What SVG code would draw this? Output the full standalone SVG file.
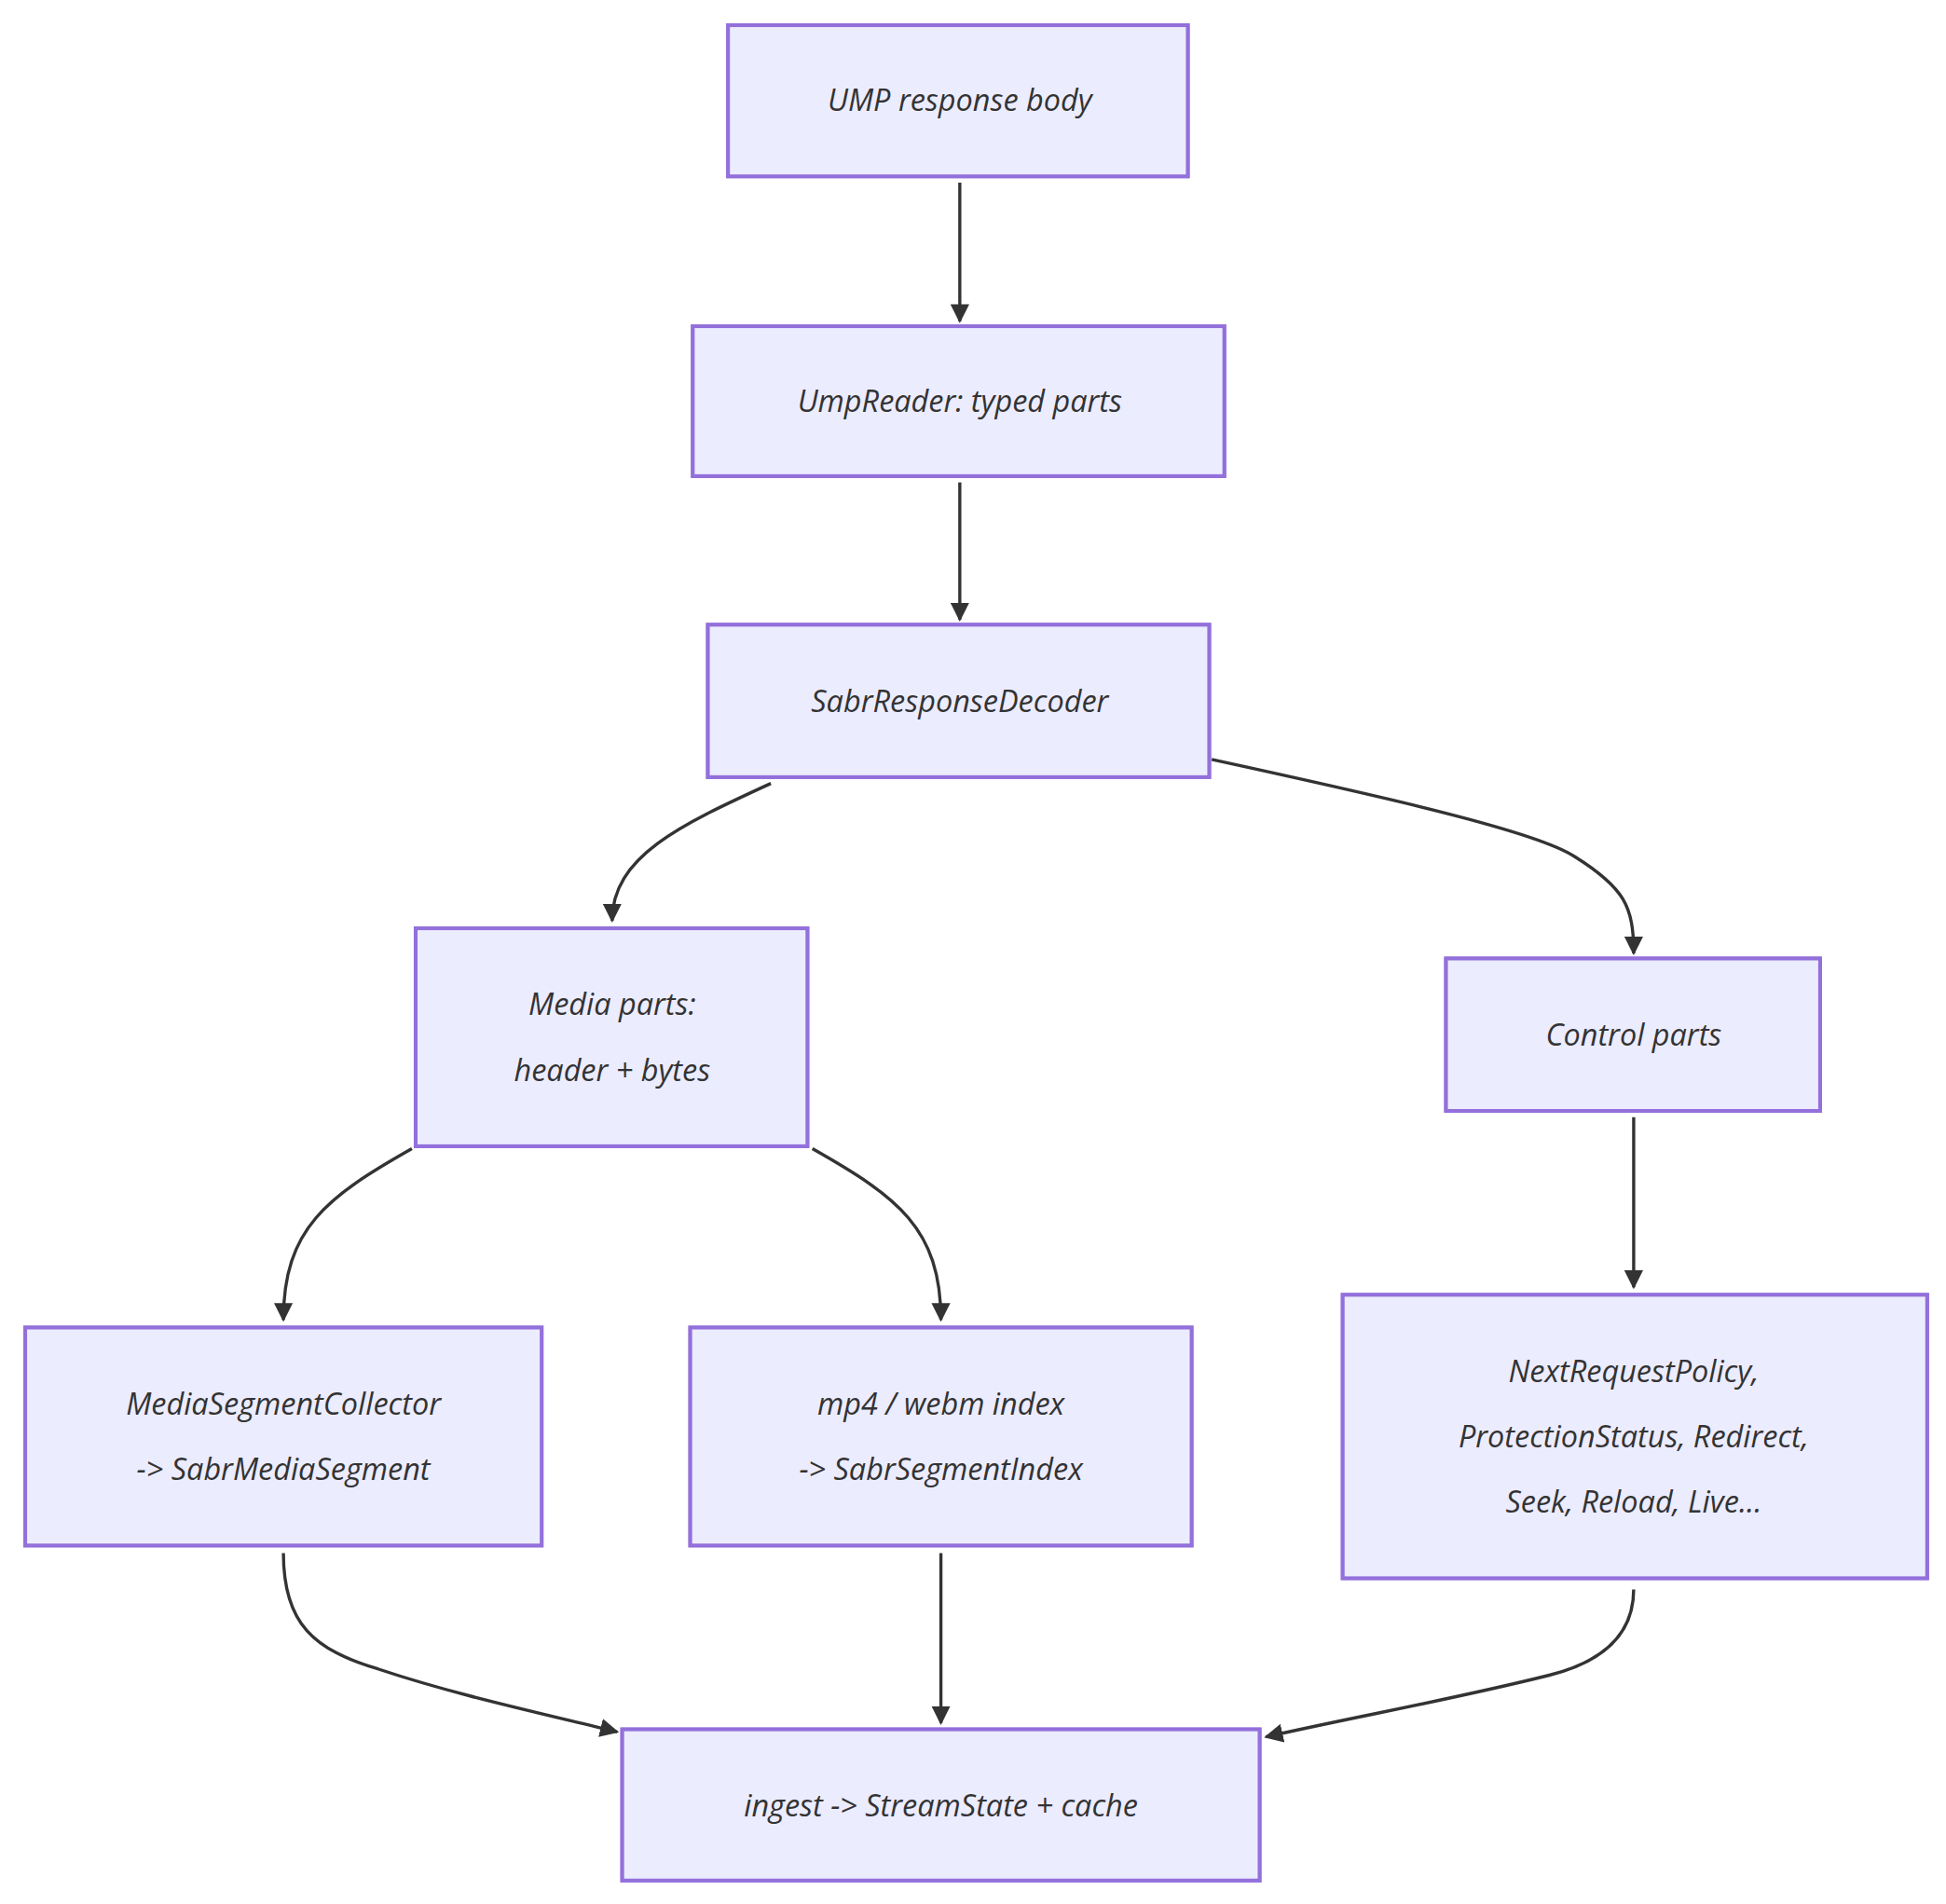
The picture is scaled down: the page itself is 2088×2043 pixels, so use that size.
<svg xmlns="http://www.w3.org/2000/svg" width="2088" height="2043" viewBox="0 0 2088 2043">
<style>
.n rect{fill:#ECECFF;stroke:#9370DB;stroke-width:3}
.n text{font-family:"Open Sans","DejaVu Sans",sans-serif;font-style:italic;font-size:24px;fill:#333;text-anchor:middle}
.e path{fill:none;stroke:#333;stroke-width:2.5}
</style>
<defs>
<marker id="a" viewBox="0 0 10 10" refX="9" refY="5" markerWidth="6" markerHeight="6" orient="auto-start-reverse" markerUnits="strokeWidth"><path d="M0,0L10,5L0,10z" fill="#333"/></marker>
<pattern id="h" width="14" height="14" patternUnits="userSpaceOnUse" patternTransform="rotate(30)"><line x1="0" y1="0" x2="0" y2="14" stroke="#fff" stroke-width="1.2"/></pattern>
</defs>
<rect width="2088" height="2043" fill="#fff"/>
<g transform="scale(1.3515)">
<g class="e">
<path d="M762,145L762,255" marker-end="url(#a)"/>
<path d="M762,383L762,492" marker-end="url(#a)"/>
<path d="M612,622C540,655 486,680 486,731" marker-end="url(#a)"/>
<path d="M962,603C1100,633 1220,660 1250,680C1290,705 1297,720 1297,757" marker-end="url(#a)"/>
<path d="M327,912C260,950 225,975 225,1048" marker-end="url(#a)"/>
<path d="M645,912C712,950 747,975 747,1048" marker-end="url(#a)"/>
<path d="M1297,887L1297,1022" marker-end="url(#a)"/>
<path d="M225,1233C225,1290 250,1310 300,1325C360,1345 420,1358 490,1375" marker-end="url(#a)"/>
<path d="M747,1233L747,1368" marker-end="url(#a)"/>
<path d="M1297,1262C1297,1300 1270,1320 1230,1330C1150,1350 1080,1362 1005,1379" marker-end="url(#a)"/>
</g>
<g id="n1" class="n"><rect x="578" y="20" width="365" height="120"/><rect x="578" y="20" width="365" height="120" fill="url(#h)" stroke="none"/><text x="762" y="88">UMP response body</text></g>
<g id="n2" class="n"><rect x="550" y="259" width="422" height="119"/><rect x="550" y="259" width="422" height="119" fill="url(#h)" stroke="none"/><text x="762" y="327">UmpReader: typed parts</text></g>
<g id="n3" class="n"><rect x="562" y="496" width="398" height="121"/><rect x="562" y="496" width="398" height="121" fill="url(#h)" stroke="none"/><text x="762" y="565">SabrResponseDecoder</text></g>
<g id="n4" class="n"><rect x="330" y="737" width="311" height="173"/><rect x="330" y="737" width="311" height="173" fill="url(#h)" stroke="none"/><text x="486" y="806">Media parts:</text><text x="486" y="858">header + bytes</text></g>
<g id="n5" class="n"><rect x="1148" y="761" width="297" height="121"/><rect x="1148" y="761" width="297" height="121" fill="url(#h)" stroke="none"/><text x="1297" y="830">Control parts</text></g>
<g id="n6" class="n"><rect x="20" y="1054" width="410" height="173"/><rect x="20" y="1054" width="410" height="173" fill="url(#h)" stroke="none"/><text x="225" y="1123">MediaSegmentCollector</text><text x="225" y="1175">-&gt; SabrMediaSegment</text></g>
<g id="n7" class="n"><rect x="548" y="1054" width="398" height="173"/><rect x="548" y="1054" width="398" height="173" fill="url(#h)" stroke="none"/><text x="747" y="1123">mp4 / webm index</text><text x="747" y="1175">-&gt; SabrSegmentIndex</text></g>
<g id="n8" class="n"><rect x="1066" y="1028" width="464" height="225"/><rect x="1066" y="1028" width="464" height="225" fill="url(#h)" stroke="none"/><text x="1297" y="1097">NextRequestPolicy,</text><text x="1297" y="1149">ProtectionStatus, Redirect,</text><text x="1297" y="1201">Seek, Reload, Live...</text></g>
<g id="n9" class="n"><rect x="494" y="1373" width="506" height="120"/><rect x="494" y="1373" width="506" height="120" fill="url(#h)" stroke="none"/><text x="747" y="1442">ingest -&gt; StreamState + cache</text></g>
</g>
</svg>
